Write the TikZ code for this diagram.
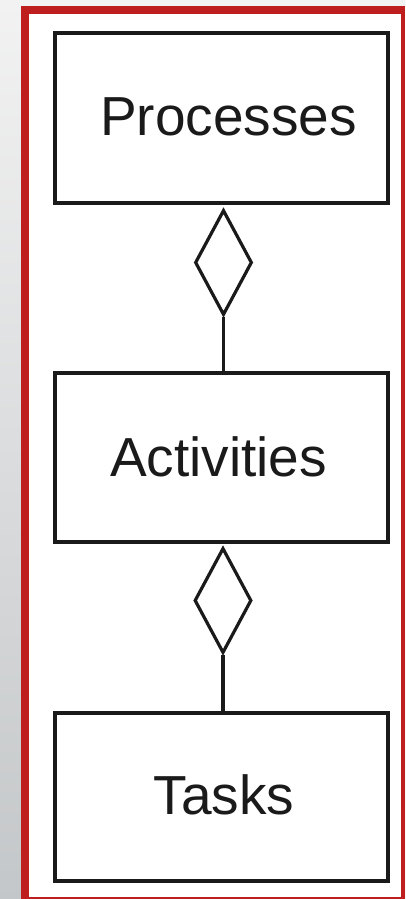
\documentclass[tikz,border=0pt]{standalone}
\usepackage{fontspec}
\setmainfont{Liberation Sans}
\usetikzlibrary{shapes.geometric}
\definecolor{frame}{HTML}{BE1E1E}
\definecolor{bgtop}{HTML}{F2F2F2}
\definecolor{bgbot}{HTML}{C4C7C9}
\definecolor{ink}{HTML}{1A1A1A}
\tikzset{
  x=1pt, y=-1pt,
  boxnode/.style={draw=ink, line width=3.4pt, rectangle, minimum width=333pt, minimum height=170pt, inner sep=0pt, fill=white},
  txt/.style={inner sep=0pt, font=\fontsize{55}{66}\selectfont, text=ink},
  agg/.style={draw=ink, line width=3.2pt, diamond, minimum width=57pt, minimum height=105pt, inner sep=0pt, fill=white},
  link/.style={draw=ink, line width=3.4pt}
}
\begin{document}
\begin{tikzpicture}
\useasboundingbox (0,0) rectangle (405,899);
\shade[top color=bgtop, bottom color=bgbot] (0,0) rectangle (405,899);
\fill[frame] (21,6) rectangle (405,899);
\fill[white] (29,14) rectangle (401,897);

\node[boxnode, minimum height=170pt] (b1) at (221.5,118) {};
\node[txt] (t1) at (228.5,117) {Processes};

\node[boxnode, minimum height=169pt] (b2) at (221.5,457.5) {};
\node[txt] (t2) at (218.5,457) {Activities};

\node[boxnode, minimum height=168pt] (b3) at (221.5,797) {};
\node[txt] (t3) at (224,795) {Tasks};

\node[agg] (d1) at (223.5,262.5) {};
\node[agg] (d2) at (223,600.5) {};

\draw[link] (d1.south) -- (d1.south |- b2.north);
\draw[link] (d2.south) -- (d2.south |- b3.north);
\end{tikzpicture}
\end{document}
